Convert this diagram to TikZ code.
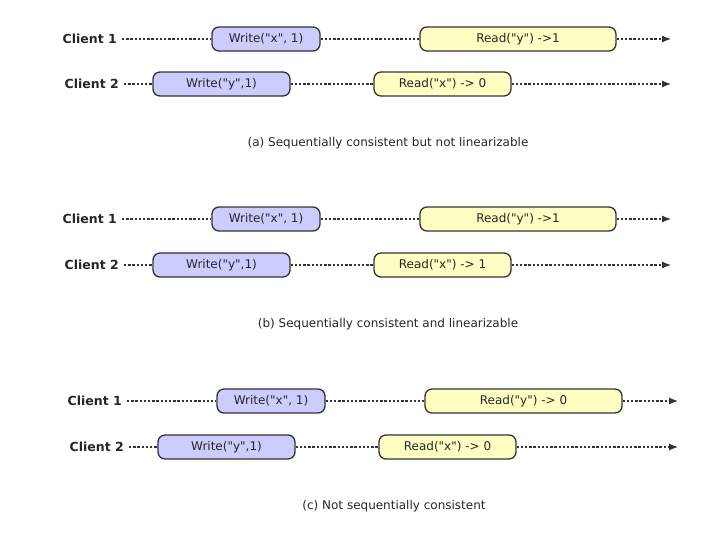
\documentclass[tikz,border=0pt]{standalone}
\usepackage{fontspec}
\setmainfont{DejaVu Sans}[Ligatures=TeXOff]
\usepackage{xcolor}
\definecolor{WriteBlue}{HTML}{CCCCFF}
\definecolor{ReadYellow}{HTML}{FFFFC4}
\definecolor{EdgeGray}{HTML}{333333}
\usepackage{tikz}
\usetikzlibrary{arrows.meta,positioning}

\begin{document}
\begin{tikzpicture}[
  x=1pt,y=-1pt,
  op/.style={rounded corners=7pt,draw=EdgeGray,line width=1.3pt,minimum height=24pt,inner sep=0pt,font=\fontsize{12}{14}\selectfont,text=black!85},
  writebox/.style={op,fill=WriteBlue},
  readbox/.style={op,fill=ReadYellow},
  client/.style={anchor=east,inner sep=0pt,font=\fontsize{12.5}{14}\selectfont\bfseries,text=black!85},
  tl/.style={draw=EdgeGray,line width=1.2pt,dash pattern=on 2.4pt off 1.8pt},
  tlend/.style={tl,-{Latex[length=9pt,width=7pt]}},
  caption/.style={font=\fontsize{12}{14}\selectfont,text=black!85}
]
\useasboundingbox (0,0) rectangle (703,543);

% (a)
\node[client] (c1a) at (117,39) {Client 1};
\node[writebox,minimum width=108pt] (w1a) at (266,39) {Write("x", 1)};
\node[readbox,minimum width=196pt] (r1a) at (518,39) {Read("y") ->1};
\coordinate (e1a) at (671,39);
\node[client] (c2a) at (119,84) {Client 2};
\node[writebox,minimum width=137pt] (w2a) at (221.5,84) {Write("y",1)};
\node[readbox,minimum width=137pt] (r2a) at (442.5,84) {Read("x") -> 0};
\coordinate (e2a) at (671,84);
\node[caption] (cpa) at (388,143) {(a) Sequentially consistent but not linearizable};
\draw[tl] (c1a.east) ++(5pt,0) -- (w1a);
\draw[tl] (w1a) -- (r1a);
\draw[tlend] (r1a) -- (e1a);
\draw[tl] (c2a.east) ++(5pt,0) -- (w2a);
\draw[tl] (w2a) -- (r2a);
\draw[tlend] (r2a) -- (e2a);

% (b)
\node[client] (c1b) at (117,219) {Client 1};
\node[writebox,minimum width=108pt] (w1b) at (266,219) {Write("x", 1)};
\node[readbox,minimum width=196pt] (r1b) at (518,219) {Read("y") ->1};
\coordinate (e1b) at (671,219);
\node[client] (c2b) at (119,265) {Client 2};
\node[writebox,minimum width=137pt] (w2b) at (221.5,265) {Write("y",1)};
\node[readbox,minimum width=137pt] (r2b) at (442.5,265) {Read("x") -> 1};
\coordinate (e2b) at (671,265);
\node[caption] (cpb) at (388,324) {(b) Sequentially consistent and linearizable};
\draw[tl] (c1b.east) ++(5pt,0) -- (w1b);
\draw[tl] (w1b) -- (r1b);
\draw[tlend] (r1b) -- (e1b);
\draw[tl] (c2b.east) ++(5pt,0) -- (w2b);
\draw[tl] (w2b) -- (r2b);
\draw[tlend] (r2b) -- (e2b);

% (c)
\node[client] (c1c) at (122,401) {Client 1};
\node[writebox,minimum width=108pt] (w1c) at (271,401) {Write("x", 1)};
\node[readbox,minimum width=197pt] (r1c) at (523.5,401) {Read("y") -> 0};
\coordinate (e1c) at (678,401);
\node[client] (c2c) at (124,447) {Client 2};
\node[writebox,minimum width=137pt] (w2c) at (226.5,447) {Write("y",1)};
\node[readbox,minimum width=137pt] (r2c) at (447.5,447) {Read("x") -> 0};
\coordinate (e2c) at (678,447);
\node[caption] (cpc) at (394,506) {(c) Not sequentially consistent};
\draw[tl] (c1c.east) ++(5pt,0) -- (w1c);
\draw[tl] (w1c) -- (r1c);
\draw[tlend] (r1c) -- (e1c);
\draw[tl] (c2c.east) ++(5pt,0) -- (w2c);
\draw[tl] (w2c) -- (r2c);
\draw[tlend] (r2c) -- (e2c);
\end{tikzpicture}
\end{document}
